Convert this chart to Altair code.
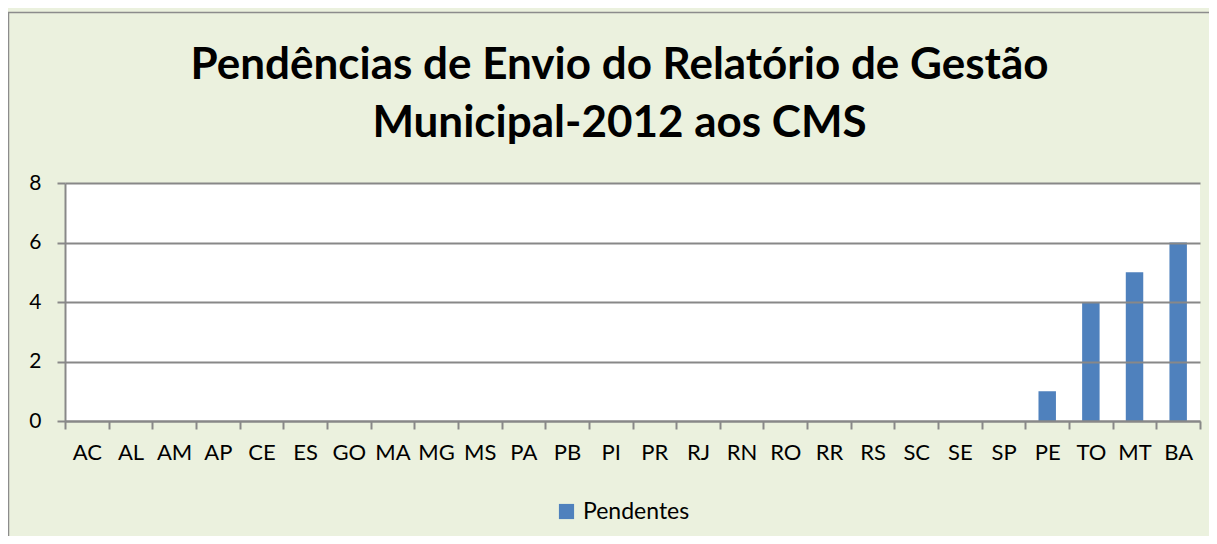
import altair as alt
import pandas as pd

states = ["AC", "AL", "AM", "AP", "CE", "ES", "GO", "MA", "MG", "MS", "PA", "PB", "PI",
          "PR", "RJ", "RN", "RO", "RR", "RS", "SC", "SE", "SP", "PE", "TO", "MT", "BA"]
pendentes = [0, 0, 0, 0, 0, 0, 0, 0, 0, 0, 0, 0, 0,
             0, 0, 0, 0, 0, 0, 0, 0, 0, 1, 4, 5, 6]
series_name = "Pendentes"
y_ticks = [0, 2, 4, 6, 8]
title_lines = ["Pendências de Envio do Relatório de Gestão", "Municipal-2012 aos CMS"]

df = pd.DataFrame({"UF": states, "valor": pendentes, "serie": [series_name] * len(states)})

FONT = "Lato"
GRID = "#888888"

frame = alt.Chart(pd.DataFrame({"k": [0]})).mark_rect(
    filled=False, stroke="#8c8c8c", strokeWidth=1.5
).encode(
    x=alt.value(-56.5), x2=alt.value(3000), y=alt.value(-170.5), y2=alt.value(3000)
)

bars = alt.Chart(df).mark_bar(width=alt.RelativeBandSize(0.4)).encode(
    x=alt.X("UF:N", sort=None, title=None,
            scale=alt.Scale(paddingInner=0, paddingOuter=0),
            axis=alt.Axis(tickBand="extent", tickSize=8, tickColor=GRID, tickWidth=2,
                          domainColor=GRID, domainWidth=2, labelAngle=0,
                          labelFont=FONT, labelFontSize=22, labelColor="black",
                          labelPadding=13, grid=False, zindex=1)),
    y=alt.Y("valor:Q", title=None,
            scale=alt.Scale(domain=[0, 8], nice=False),
            axis=alt.Axis(values=y_ticks, tickSize=8, tickColor=GRID, tickWidth=2,
                          domainColor=GRID, domainWidth=2, gridColor=GRID, gridWidth=2,
                          labelFont=FONT, labelFontSize=21, labelColor="black",
                          labelPadding=16, zindex=1)),
    color=alt.Color("serie:N", title=None,
                    scale=alt.Scale(domain=[series_name], range=["#4F81BD"]),
                    legend=alt.Legend(orient="none", legendX=490, legendY=317,
                                      symbolType="square", symbolSize=230,
                                      symbolStrokeWidth=0,
                                      labelFont=FONT, labelFontSize=23,
                                      labelColor="black", labelOffset=5)),
)

chart = alt.layer(frame, bars).properties(
    width=1135,
    height=238,
    autosize=alt.AutoSizeParams(type="none"),
    padding={"left": 57, "top": 175, "right": 9, "bottom": 115},
    background="#EBF1DE",
    title=alt.TitleParams(text=title_lines, font=FONT, fontSize=44, fontWeight="bold",
                          color="black", anchor="middle", dx=-13, offset=-134,
                          lineHeight=58),
).configure_view(fill="white", stroke=None)

chart.save("out.html", embed_options={"renderer": "svg", "actions": False})
